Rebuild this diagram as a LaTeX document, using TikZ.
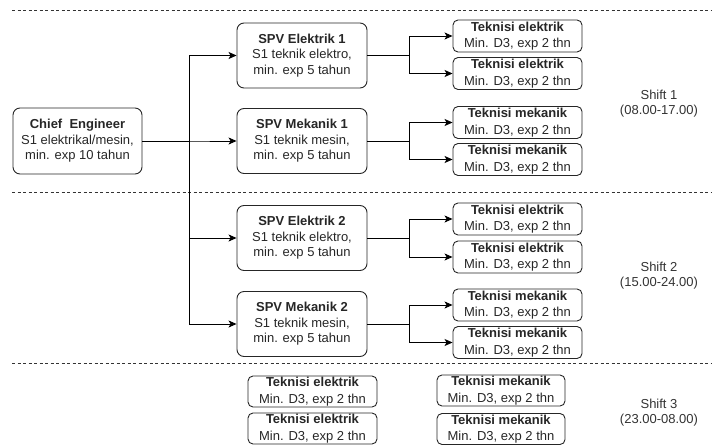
\documentclass[tikz,border=0pt]{standalone}
\usepackage{fontspec}
\setmainfont{Liberation Sans}
\usetikzlibrary{arrows.meta}
\begin{document}
\begin{tikzpicture}[x=1pt,y=-1pt,
  box/.style={draw=black!85, line width=0.9pt, rounded corners=7pt, align=center, inner sep=0pt, text=black!85, font=\fontsize{13}{15.5}\selectfont},
  big/.style={box, minimum width=130pt, minimum height=65pt},
  small/.style={box, rounded corners=5pt, minimum width=129pt, minimum height=32pt, font=\fontsize{13}{16.5}\selectfont},
  conn/.style={draw=black, line width=0.9pt, -{Stealth[length=8pt,width=7pt,inset=2pt]}},
  sep/.style={draw=black!80, line width=0.8pt, dash pattern=on 3pt off 2.5pt},
  lbl/.style={text=black!80, align=center, font=\fontsize{13}{15}\selectfont}]
\useasboundingbox (0,0) rectangle (717,447);

% separators
\draw[sep] (12,10) -- (712,10);
\draw[sep] (12,192.5) -- (712,192.5);
\draw[sep] (12,363.5) -- (712,363.5);

% chief
\node[big, minimum width=129pt, minimum height=66pt] (chief) at (77.5,141) {\textbf{Chief\ \ Engineer}\\S1 elektrikal/mesin,\\min. exp 10 tahun};

% SPVs
\node[big] (se1) at (302,55.5) {\textbf{SPV Elektrik 1}\\S1 teknik elektro,\\min. exp 5 tahun};
\node[big] (sm1) at (302,141) {\textbf{SPV Mekanik 1}\\S1 teknik mesin,\\min. exp 5 tahun};
\node[big] (se2) at (302,238) {\textbf{SPV Elektrik 2}\\S1 teknik elektro,\\min. exp 5 tahun};
\node[big] (sm2) at (302,324) {\textbf{SPV Mekanik 2}\\S1 teknik mesin,\\min. exp 5 tahun};

% teknisi shift 1
\node[small] (t1a) at (517.5,36) {\textbf{Teknisi elektrik}\\Min. D3, exp 2 thn};
\node[small] (t1b) at (517.5,73.5) {\textbf{Teknisi elektrik}\\Min. D3, exp 2 thn};
\node[small] (t1c) at (517.5,122.5) {\textbf{Teknisi mekanik}\\Min. D3, exp 2 thn};
\node[small] (t1d) at (517.5,159.5) {\textbf{Teknisi mekanik}\\Min. D3, exp 2 thn};

% teknisi shift 2
\node[small] (t2a) at (517.5,219) {\textbf{Teknisi elektrik}\\Min. D3, exp 2 thn};
\node[small] (t2b) at (517.5,257) {\textbf{Teknisi elektrik}\\Min. D3, exp 2 thn};
\node[small] (t2c) at (517.5,305) {\textbf{Teknisi mekanik}\\Min. D3, exp 2 thn};
\node[small] (t2d) at (517.5,342.5) {\textbf{Teknisi mekanik}\\Min. D3, exp 2 thn};

% teknisi shift 3
\node[small, minimum height=31pt] (t3a) at (312.5,391.5) {\textbf{Teknisi elektrik}\\Min. D3, exp 2 thn};
\node[small, minimum height=31pt] (t3b) at (312.5,428.5) {\textbf{Teknisi elektrik}\\Min. D3, exp 2 thn};
\node[small, minimum width=128pt, minimum height=31pt] (t3c) at (501,390.5) {\textbf{Teknisi mekanik}\\Min. D3, exp 2 thn};
\node[small, minimum width=128pt, minimum height=31pt] (t3d) at (501,429) {\textbf{Teknisi mekanik}\\Min. D3, exp 2 thn};

% shift labels
\node[lbl] (sh1) at (659,103.5) {Shift 1\\(08.00-17.00)};
\node[lbl] (sh2) at (659,275.5) {Shift 2\\(15.00-24.00)};
\node[lbl] (sh3) at (659,412.5) {Shift 3\\(23.00-08.00)};

% chief to SPVs
\coordinate (trunk) at (189,141);
\foreach \s in {se1,sm1,se2,sm2}
  \draw[conn] (chief.east) -- (trunk) |- (\s.west);

% SPV to teknisi
\draw[conn] (se1.east) -- ++(42,0) |- (t1a.west);
\draw[conn] (se1.east) -- ++(42,0) |- (t1b.west);
\draw[conn] (sm1.east) -- ++(42,0) |- (t1c.west);
\draw[conn] (sm1.east) -- ++(42,0) |- (t1d.west);
\draw[conn] (se2.east) -- ++(42,0) |- (t2a.west);
\draw[conn] (se2.east) -- ++(42,0) |- (t2b.west);
\draw[conn] (sm2.east) -- ++(42,0) |- (t2c.west);
\draw[conn] (sm2.east) -- ++(42,0) |- (t2d.west);
\end{tikzpicture}
\end{document}
